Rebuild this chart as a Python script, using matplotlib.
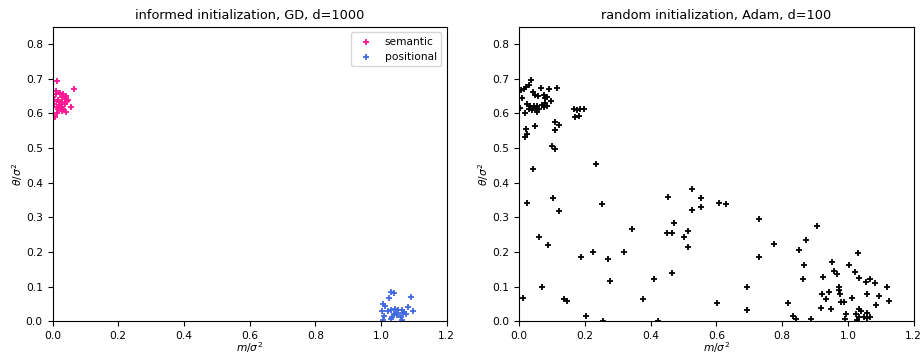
import matplotlib
matplotlib.use("Agg")
import matplotlib.pyplot as plt
import numpy as np

plt.rcParams['font.size'] = 7.7

sem_x = [0.013, 0.065, 0.011, 0.023, 0.033, 0.040, 0.028, 0.037, 0.016, 0.006, 0.045, 0.028, 0.004, 0.023,
         0.037, 0.055, 0.013, 0.033, 0.028, 0.040, 0.013, 0.008, 0.018, 0.047, 0.002, 0.030, 0.020, 0.010]
sem_y = [0.693, 0.670, 0.666, 0.658, 0.655, 0.650, 0.648, 0.642, 0.640, 0.636, 0.636, 0.632, 0.628, 0.625,
         0.628, 0.620, 0.618, 0.612, 0.606, 0.604, 0.600, 0.590, 0.612, 0.640, 0.648, 0.620, 0.634, 0.655]

pos_x = [1.032, 1.039, 1.025, 1.090, 1.007, 1.012, 1.083, 1.002, 1.020, 1.030, 1.043, 1.053, 1.063,
         1.067, 1.075, 1.070, 1.097, 1.010, 1.035, 1.050, 1.060, 1.005, 1.030, 1.065, 1.048, 1.040]
pos_y = [0.085, 0.081, 0.066, 0.071, 0.050, 0.044, 0.042, 0.030, 0.030, 0.033, 0.036, 0.034, 0.032,
         0.025, 0.020, 0.028, 0.030, 0.015, 0.013, 0.018, 0.013, 0.003, 0.008, 0.005, 0.025, 0.020]

rnd_x = [0.036, 0.029, 0.021, 0.014, 0.007, 0.068, 0.090, 0.116, 0.042, 0.050, 0.058, 0.075, 0.080, 0.085,
         0.009, 0.098, 0.080, 0.070, 0.024, 0.034, 0.045, 0.055, 0.029, 0.040, 0.052, 0.060, 0.075, 0.085,
         0.019, 0.055, 0.003, 0.166, 0.176, 0.186, 0.197, 0.169, 0.181, 0.110, 0.121, 0.109, 0.050, 0.022,
         0.024, 0.017, 0.100, 0.108, 0.042, 0.234,
         0.025, 0.104, 0.122, 0.251, 0.343, 0.062, 0.087, 0.226, 0.319, 0.188, 0.271, 0.277, 0.070, 0.411,
         0.011, 0.138, 0.147, 0.376, 0.204, 0.256, 0.424, 0.453, 0.526, 0.552, 0.527, 0.552, 0.471, 0.449,
         0.464, 0.513, 0.502, 0.513, 0.466, 0.608, 0.629, 0.729, 0.907, 0.775, 0.871, 0.852, 0.730, 1.031,
         0.867, 0.952, 1.003, 0.957, 0.966, 0.862, 0.923, 1.022, 1.034, 1.055, 1.067, 1.083, 1.119, 0.694,
         0.920, 0.943, 0.973, 0.974, 0.975, 0.933, 1.011, 0.979, 0.989, 1.057, 1.093, 1.085, 1.125, 0.601,
         0.694, 0.819, 0.917, 0.948, 1.033, 1.039, 0.994, 0.991, 1.024, 1.034, 1.057, 1.067, 1.057, 1.049,
         0.834, 0.842, 0.888, 1.026]
rnd_y = [0.698, 0.683, 0.676, 0.671, 0.667, 0.673, 0.671, 0.673, 0.662, 0.654, 0.650, 0.654, 0.644, 0.647,
         0.644, 0.635, 0.631, 0.625, 0.628, 0.621, 0.623, 0.621, 0.614, 0.611, 0.616, 0.612, 0.618, 0.621,
         0.602, 0.604, 0.615, 0.612, 0.609, 0.612, 0.612, 0.590, 0.593, 0.575, 0.566, 0.551, 0.564, 0.556,
         0.541, 0.532, 0.506, 0.496, 0.441, 0.454,
         0.341, 0.357, 0.318, 0.338, 0.266, 0.244, 0.220, 0.201, 0.200, 0.185, 0.179, 0.117, 0.098, 0.121,
         0.068, 0.064, 0.059, 0.063, 0.015, 0.002, 0.002, 0.358, 0.381, 0.357, 0.321, 0.329, 0.285, 0.256,
         0.254, 0.261, 0.242, 0.214, 0.139, 0.341, 0.339, 0.294, 0.276, 0.222, 0.235, 0.206, 0.185, 0.198,
         0.162, 0.171, 0.162, 0.146, 0.136, 0.122, 0.128, 0.142, 0.126, 0.113, 0.121, 0.111, 0.100, 0.098,
         0.080, 0.085, 0.098, 0.090, 0.078, 0.065, 0.067, 0.055, 0.055, 0.078, 0.074, 0.048, 0.059, 0.052,
         0.033, 0.052, 0.039, 0.035, 0.035, 0.030, 0.021, 0.006, 0.021, 0.012, 0.025, 0.013, 0.009, 0.013,
         0.015, 0.006, 0.006, 0.004]

fig = plt.figure(figsize=(9.23, 3.56), dpi=100)
ax1 = fig.add_axes([0.0569, 0.0975, 0.427, 0.827])
ax2 = fig.add_axes([0.5623, 0.0975, 0.4277, 0.827])

ms = 24
lw = 1.3
ax1.scatter(sem_x, sem_y, marker='+', s=ms, linewidths=lw, color='#ff1493', label='semantic')
ax1.scatter(pos_x, pos_y, marker='+', s=ms, linewidths=lw, color='#4169e1', label='positional')
ax1.legend(loc='upper right')
ax1.set_title('informed initialization, GD, d=1000')

ax2.scatter(rnd_x, rnd_y, marker='+', s=ms, linewidths=lw, color='black')
ax2.set_title('random initialization, Adam, d=100')

for ax in (ax1, ax2):
    ax.set_xlim(0, 1.2)
    ax.set_ylim(0, 0.85)
    ax.set_xticks(np.arange(0, 1.21, 0.2))
    ax.set_yticks(np.arange(0, 0.81, 0.1))
    ax.set_xlabel(r'$m/\sigma^2$')
    ax.set_ylabel(r'$\theta/\sigma^2$')
    ax.xaxis.set_label_coords(0.5, -0.063)
    ax.yaxis.set_label_coords(-0.07, 0.5)

fig.savefig('out.png', dpi=100)
